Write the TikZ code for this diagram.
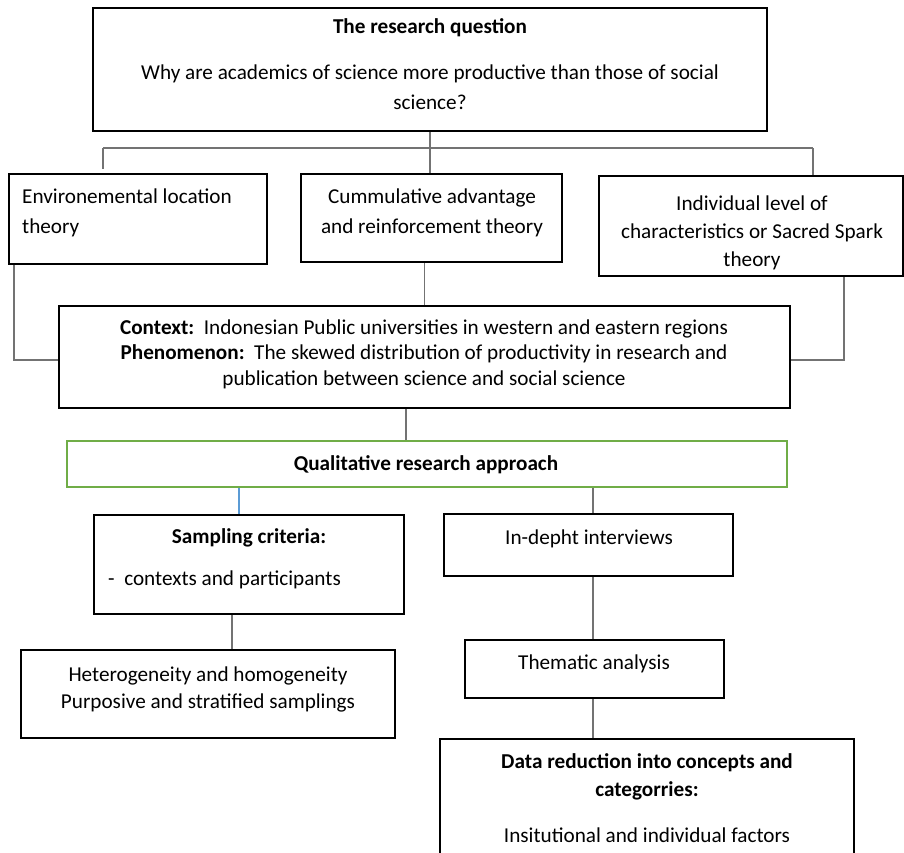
\documentclass[tikz,border=0pt]{standalone}
\usepackage{fontspec}
\setmainfont{Carlito}
\newcommand\fsz{\fontsize{21.2}{25}\selectfont}
\definecolor{offgreen}{HTML}{70AD47}
\definecolor{offblue}{HTML}{5B9BD5}
\tikzset{
  box/.style={draw=black, line width=2pt, rectangle, inner sep=0pt},
  conn/.style={draw=black!55, line width=1.2pt},
  txt/.style={inner sep=0pt, font=\fsz, text height=16pt, text depth=5pt},
  btxt/.style={txt, font=\fsz\bfseries},
}
\begin{document}
\begin{tikzpicture}[x=1pt,y=-1pt]
\useasboundingbox (0,0) rectangle (904,852);
\clip (0,0) rectangle (904,852);
\fill[white] (0,0) rectangle (904,852);
% boxes
\node[box, minimum width=674pt, minimum height=123pt] (top) at (430,69.5) {};
\node[box, minimum width=258pt, minimum height=90pt] (env) at (138,219) {};
\node[box, minimum width=261pt, minimum height=88pt] (cumm) at (431.5,218) {};
\node[box, minimum width=304pt, minimum height=100pt] (indiv) at (751,226) {};
\node[box, minimum width=731pt, minimum height=102pt] (ctx) at (424.5,357) {};
\node[box, draw=offgreen, minimum width=720pt, minimum height=46pt] (qual) at (427,464) {};
\node[box, minimum width=310pt, minimum height=99pt] (samp) at (249,564.5) {};
\node[box, minimum width=289pt, minimum height=62pt] (indepth) at (588.5,545) {};
\node[box, minimum width=374pt, minimum height=88pt] (hetero) at (208,694) {};
\node[box, minimum width=259pt, minimum height=58pt] (them) at (594.5,669) {};
\node[box, minimum width=414pt, minimum height=141pt] (data) at (647,809.5) {};
% texts
\node[btxt] (t1) at (430,28) {The research question};
\node[txt] (t2) at (430,74) {Why are academics of science more productive than those of social};
\node[txt] (t3) at (430,104) {science?};
\node[txt, anchor=west] (e1) at (22,198) {Environemental location};
\node[txt, anchor=west] (e2) at (22,228) {theory};
\node[txt] (c1) at (432,198) {Cummulative advantage};
\node[txt] (c2) at (432,228) {and reinforcement theory};
\node[txt] (i1) at (752,205) {Individual level of};
\node[txt] (i2) at (752,233) {characteristics or Sacred Spark};
\node[txt] (i3) at (752,261) {theory};
\node[txt] (x1) at (424,329) {\textbf{Context:}\ \ Indonesian Public universities in western and eastern regions};
\node[txt] (x2) at (424,354) {\textbf{Phenomenon:}\ \ The skewed distribution of productivity in research and};
\node[txt] (x3) at (424,380) {publication between science and social science};
\node[btxt] (q1) at (426,465) {Qualitative research approach};
\node[btxt] (s1) at (249,538) {Sampling criteria:};
\node[txt, anchor=west] (s2) at (108,580) {-\ \ contexts and participants};
\node[txt] (d1) at (589,539) {In-depht interviews};
\node[txt] (h1) at (208,676) {Heterogeneity and homogeneity};
\node[txt] (h2) at (208,703) {Purposive and stratified samplings};
\node[txt] (m1) at (594,664) {Thematic analysis};
\node[btxt] (r1) at (647,763) {Data reduction into concepts and};
\node[btxt] (r2) at (647,791) {categorries:};
\node[txt] (r3) at (647,837) {Insitutional and individual factors};
% connectors
\coordinate (hl) at (103,148);
\coordinate (hr) at (813,148);
\coordinate (el) at (14,360);
\coordinate (ir) at (844,360);
\coordinate (hlend) at (103,169);
\draw[conn] (top.south) -- (top.south |- cumm.north);
\draw[conn] (hl) -- (hr);
\draw[conn] (hl) -- (hlend);
\draw[conn] (hr) -- (hr |- indiv.north);
\draw[conn] (ctx.north) -- (ctx.north |- cumm.south);
\draw[conn] (el |- env.south) -- (el) -- (el -| ctx.west);
\draw[conn] (ir |- indiv.south) -- (ir) -- (ir -| ctx.east);
\draw[conn] (ctx.south -| 406,0) -- (qual.north -| 406,0);
\draw[conn, draw=offblue] (qual.south -| 239,0) -- (samp.north -| 239,0);
\draw[conn] (qual.south -| 593,0) -- (indepth.north -| 593,0);
\draw[conn] (indepth.south -| 593,0) -- (them.north -| 593,0);
\draw[conn] (samp.south -| 232,0) -- (hetero.north -| 232,0);
\draw[conn] (them.south -| 593,0) -- (data.north -| 593,0);
\end{tikzpicture}
\end{document}
